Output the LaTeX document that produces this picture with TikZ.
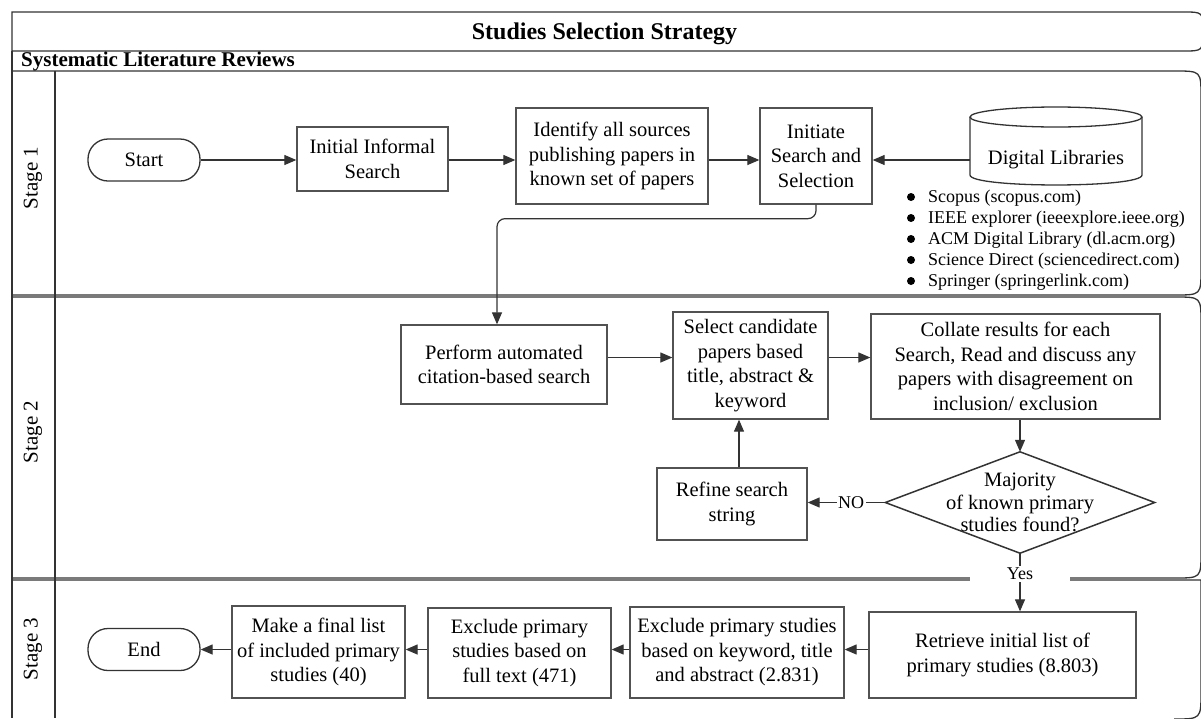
\documentclass[tikz,border=0pt]{standalone}
\usepackage{fontspec}
\setmainfont{Liberation Serif}
\usetikzlibrary{arrows.meta,calc}
\begin{document}
\begin{tikzpicture}[x=1pt,y=-1pt,
  frame/.style={draw=black!80, line width=1.3pt},
  box/.style={draw=black!68, line width=1.3pt, align=center, inner sep=2pt,
    font=\fontsize{20.5}{24.5}\selectfont},
  term/.style={box, draw=black!80, rounded corners=20pt, minimum width=112pt, minimum height=42pt},
  arr/.style={draw=black!80, line width=1.2pt, -{Triangle[length=12pt,width=10pt]}},
  lbl/.style={font=\fontsize{18}{21}\selectfont, fill=white, inner sep=1.5pt},
  stagelbl/.style={rotate=90, font=\fontsize{21}{24}\selectfont},
  dot/.style={fill=black, draw=none}
]
\useasboundingbox (0,0) rectangle (1201,718);

% swimlane frame
\begin{scope}
  \clip (0,0) rectangle (1201,718);
  \draw[frame] (12,51) -- (12,12) -- (1183,12) .. controls (1203,12) .. (1203,31)
     .. controls (1203,51) .. (1183,51) -- cycle;
  \draw[frame] (12,51) -- (12,718);
  \draw[frame] (12,71) -- (1175,71) .. controls (1201,71) .. (1201,97) -- (1201,269)
     .. controls (1201,295) .. (1175,295) -- (12,295);
  \draw[frame] (12,297) -- (1175,297) .. controls (1201,297) .. (1201,323) -- (1201,552)
     .. controls (1201,578) .. (1175,578) -- (12,578);
  \draw[frame] (12,580) -- (1201,580) -- (1201,692) .. controls (1201,719) .. (1174,719);
  \draw[frame] (55,71) -- (55,718);
\end{scope}

% headings
\node[anchor=base, inner sep=0pt, font=\bfseries\fontsize{24}{28}\selectfont] (title) at (604.5,39.5) {Studies Selection Strategy};
\node[anchor=base west, inner sep=0pt, font=\bfseries\fontsize{21}{24}\selectfont] (slr) at (21,66.5) {Systematic Literature Reviews};
\node[stagelbl] (st1) at (33,178) {Stage 1};
\node[stagelbl] (st2) at (33,432) {Stage 2};
\node[stagelbl] (st3) at (33,649) {Stage 3};

% stage 1
\node[term] (start) at (144,160) {Start};
\node[box, minimum width=151pt, minimum height=64pt] (initial) at (372.5,159) {Initial Informal\\Search};
\node[box, minimum width=192pt, minimum height=96pt] (identify) at (612,156) {Identify all sources\\publishing papers in\\known set of papers};
\node[box, minimum width=112pt, minimum height=96pt] (initiate) at (816,156) {Initiate\\Search and\\Selection};
\node[minimum width=172pt, minimum height=50pt, inner sep=0pt, font=\fontsize{20.5}{24.5}\selectfont] (dl) at (1056,160) {Digital Libraries};
\draw[frame] (970,117) -- (970,175) .. controls (970,188.3) and (1142,188.3) .. (1142,175) -- (1142,117);
\draw[frame] (1056,117) ellipse [x radius=86, y radius=10];

% library list with its bullets
\node[anchor=north west, inner sep=0pt, align=left, font=\fontsize{18}{21}\selectfont] (libs) at (928,190)
  {Scopus (scopus.com)\\
   IEEE explorer (ieeexplore.ieee.org)\\
   ACM Digital Library (dl.acm.org)\\
   Science Direct (sciencedirect.com)\\
   Springer (springerlink.com)};
\foreach \yy in {197,218,239,260,281}
  \fill[dot] (911,\yy) circle[radius=4pt];

% stage 2
\node[box, minimum width=206pt, minimum height=79pt] (perform) at (504,364.5) {Perform automated\\citation-based search};
\node[box, minimum width=155pt, minimum height=107pt] (select) at (750.5,365.5) {Select candidate\\papers based\\title, abstract \&\\keyword};
\node[box, minimum width=289pt, minimum height=105pt] (collate) at (1015.5,366.5) {Collate results for each\\Search, Read and discuss any\\papers with disagreement on\\inclusion/ exclusion};
\node[align=center, inner sep=0pt, minimum width=269pt, minimum height=101pt, font=\fontsize{20.5}{22.5}\selectfont] (dec) at (1020,502.5) {\raisebox{5pt}{\parbox{170pt}{\centering Majority\\of known primary\\studies found?}}};
\draw[draw=black!80, line width=1.5pt] (dec.north) -- (dec.east) -- (dec.south) -- (dec.west) -- cycle;
\node[box, minimum width=150pt, minimum height=72pt] (refine) at (732,504) {Refine search\\string};

% stage 3
\node[box, minimum width=267pt, minimum height=86pt] (retrieve) at (1002.5,655) {Retrieve initial list of\\primary studies (8.803)};
\node[box, minimum width=214pt, minimum height=91pt] (exclkw) at (737,652.5) {Exclude primary studies\\based on keyword, title\\and abstract (2.831)};
\node[box, minimum width=183pt, minimum height=90pt] (exclft) at (519.5,653) {Exclude primary\\studies based on\\full text (471)};
\node[box, minimum width=173pt, minimum height=92pt] (final) at (318.5,652) {Make a final list\\of included primary\\studies (40)};
\node[term] (end) at (144,649.5) {End};

% connectors
\draw[arr] (start.east) -- (start.east -| initial.west);
\draw[arr] (initial.east |- start.east) -- (start.east -| identify.west);
\draw[arr] (identify.east |- start.east) -- (start.east -| initiate.west);
\draw[arr] (dl.west |- start.east) -- (start.east -| initiate.east);
\draw[arr, rounded corners=8pt] (initiate.south) -- ++(0,14) -| ([xshift=-7pt]perform.north);
\draw[arr] ([yshift=7pt]perform.east) -- ([yshift=7pt]perform.east -| select.west);
\draw[arr] ([yshift=7pt]perform.east -| select.east) -- ([yshift=7pt]perform.east -| collate.west);
\draw[arr] (dec.north |- collate.south) -- (dec.north);
\draw[arr] ([xshift=7pt]refine.north) -- ([xshift=7pt]refine.north |- select.south);
\draw[arr] (dec.west) -- (dec.west -| refine.east) node[lbl, pos=0.44] {NO};
\draw[arr] (dec.south) -- (dec.south |- retrieve.north) node[lbl, pos=0.36, minimum width=100pt, inner ysep=2pt] {Yes};
\draw[arr] (retrieve.west |- end.east) -- (end.east -| exclkw.east);
\draw[arr] (exclkw.west |- end.east) -- (end.east -| exclft.east);
\draw[arr] (exclft.west |- end.east) -- (end.east -| final.east);
\draw[arr] (final.west |- end.east) -- (end.east);
\end{tikzpicture}
\end{document}
